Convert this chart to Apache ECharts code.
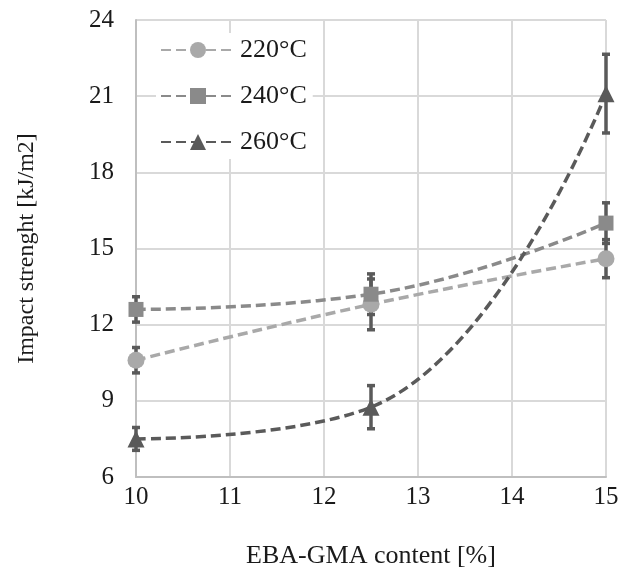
<!DOCTYPE html>
<html>
<head>
<meta charset="utf-8">
<script src="https://cdn.jsdelivr.net/npm/echarts@6/dist/echarts.min.js"></script>
<style>
  html, body { margin: 0; padding: 0; background: #fff; }
  #main { width: 620px; height: 576px; }
</style>
</head>
<body>
<div id="main"></div>
<script>
// EBA-GMA content [%]
var xValues = [10, 12.5, 15];
var seriesNames = ['220°C', '240°C', '260°C'];
var values220 = [10.6, 12.8, 14.6];
var values240 = [12.6, 13.2, 16.0];
var values260 = [7.5, 8.75, 21.1];
var err220 = [0.5, 1.0, 0.75];
var err240 = [0.5, 0.8, 0.8];
var err260 = [0.45, 0.85, 1.55];
var colors = ['#a9a9a9', '#8a8a8a', '#5a5a5a'];
var symbols = ['circle', 'rect', 'triangle'];

var myChart = echarts.init(document.getElementById('main'));

function pairs(vals) {
    var out = [];
    for (var i = 0; i < xValues.length; i++) {
        out.push([xValues[i], vals[i]]);
    }
    return out;
}

function errData(vals, errs) {
    var out = [];
    for (var i = 0; i < xValues.length; i++) {
        out.push([xValues[i], vals[i] - errs[i], vals[i] + errs[i]]);
    }
    return out;
}

// 误差线
function renderError(params, api) {
    var x = api.value(0);
    var lo = api.coord([x, api.value(1)]);
    var hi = api.coord([x, api.value(2)]);
    var w = 4;
    var style = { stroke: '#5a5a5a', lineWidth: 3.5, fill: null };
    return {
        type: 'group',
        children: [
            { type: 'line', shape: { x1: lo[0], y1: lo[1], x2: hi[0], y2: hi[1] }, style: style },
            { type: 'line', shape: { x1: lo[0] - w, y1: lo[1], x2: lo[0] + w, y2: lo[1] }, style: style },
            { type: 'line', shape: { x1: hi[0] - w, y1: hi[1], x2: hi[0] + w, y2: hi[1] }, style: style }
        ]
    };
}

var allVals = [values220, values240, values260];
var allErrs = [err220, err240, err260];
var series = [];
for (var k = 0; k < 3; k++) {
    series.push({
        name: seriesNames[k] + ' err',
        type: 'custom',
        renderItem: renderError,
        data: errData(allVals[k], allErrs[k]),
        encode: { x: 0, y: [1, 2] },
        z: 2,
        silent: true
    });
}
for (var k = 0; k < 3; k++) {
    series.push({
        name: seriesNames[k],
        type: 'line',
        smooth: 0.45,
        data: pairs(allVals[k]),
        symbol: symbols[k],
        symbolSize: k == 1 ? 15 : 17,
        itemStyle: { color: colors[k] },
        lineStyle: { color: colors[k], width: 3.5, type: [10, 5] },
        z: 3
    });
}

var font = 'Liberation Serif, Times New Roman, serif';
var option = {
    animation: false,
    backgroundColor: '#fff',
    grid: { left: 136, right: 14, top: 20, bottom: 99, outerBoundsMode: 'none', containLabel: false },
    legend: {
        data: seriesNames,
        orient: 'vertical',
        left: 156,
        top: 33,
        itemWidth: 74,
        itemHeight: 20,
        itemGap: 20,
        backgroundColor: '#fff',
        padding: [4, 6, 4, 4],
        textStyle: { fontFamily: font, fontSize: 26, color: '#1a1a1a' }
    },
    xAxis: {
        type: 'value',
        min: 10,
        max: 15,
        interval: 1,
        name: 'EBA-GMA content [%]',
        nameLocation: 'middle',
        nameGap: 66,
        nameTextStyle: { fontFamily: font, fontSize: 26, color: '#1a1a1a' },
        axisLine: { lineStyle: { color: '#bfbfbf', width: 2 } },
        axisTick: { show: false },
        axisLabel: { fontFamily: font, fontSize: 25, color: '#1a1a1a', margin: 8 },
        splitLine: { lineStyle: { color: '#d9d9d9', width: 2 } }
    },
    yAxis: {
        type: 'value',
        min: 6,
        max: 24,
        interval: 3,
        name: 'Impact strenght [kJ/m2]',
        nameLocation: 'middle',
        nameGap: 97,
        nameTextStyle: { fontFamily: font, fontSize: 24, color: '#1a1a1a' },
        axisLine: { show: true, lineStyle: { color: '#bfbfbf', width: 2 } },
        axisTick: { show: false },
        axisLabel: { fontFamily: font, fontSize: 25, color: '#1a1a1a', margin: 22 },
        splitLine: { lineStyle: { color: '#d9d9d9', width: 2 } }
    },
    series: series
};

myChart.setOption(option);
</script>
</body>
</html>
